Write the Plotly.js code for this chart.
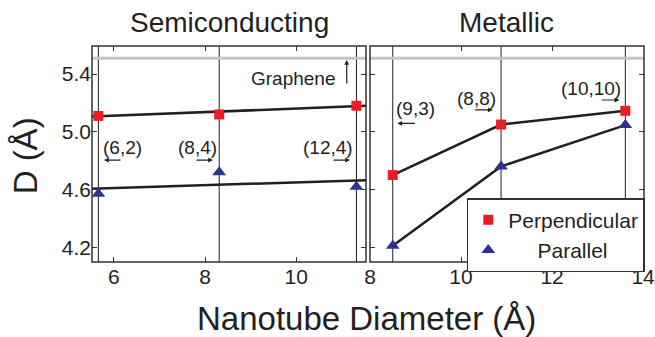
<!DOCTYPE html>
<html>
<head>
<meta charset="utf-8">
<script src="https://cdn.plot.ly/plotly-3.0.1.min.js"></script>
<style>html,body{margin:0;padding:0;background:#fff;overflow:hidden;}#chart{width:655px;height:337px;}</style>
</head>
<body>
<div id="chart"></div>
<script>
// ---- data ----
const semiLabels = ["(6,2)", "(8,4)", "(12,4)"];
const semiX = [5.66, 8.31, 11.32];
const semiPerp = [5.11, 5.12, 5.18];
const semiPar = [4.57, 4.72, 4.62];
const semiFitX = [5.52, 11.53];
const semiFitPerp = [5.105, 5.18];
const semiFitPar = [4.605, 4.665];

const metLabels = ["(9,3)", "(8,8)", "(10,10)"];
const metX = [8.50, 10.88, 13.61];
const metPerp = [4.70, 5.05, 5.145];
const metPar = [4.21, 4.76, 5.046];

const grapheneD = 5.51;
const yTicks = [4.2, 4.6, 5.0, 5.4];
const semiXTicks = [6, 8, 10];
const metXTicks = [8, 10, 12, 14];

// ---- styles ----
const RED = '#ec1c24', BLUE = '#2e3192', INK = '#231f20';
const FONT = 'Liberation Sans, Arial, Helvetica, sans-serif';

const traces = [
  {x: semiFitX, y: semiFitPerp, xaxis: 'x', yaxis: 'y', mode: 'lines', line: {color: INK, width: 2.5}, showlegend: false, hoverinfo: 'skip'},
  {x: semiFitX, y: semiFitPar, xaxis: 'x', yaxis: 'y', mode: 'lines', line: {color: INK, width: 2.5}, showlegend: false, hoverinfo: 'skip'},
  {x: semiX, y: semiPerp, xaxis: 'x', yaxis: 'y', mode: 'markers', marker: {symbol: 'square', size: 10, color: RED}, showlegend: false},
  {x: semiX, y: semiPar, xaxis: 'x', yaxis: 'y', mode: 'markers', marker: {symbol: 'triangle-up', size: 12, color: BLUE}, showlegend: false},
  {x: metX, y: metPerp, xaxis: 'x2', yaxis: 'y2', mode: 'lines', line: {color: INK, width: 2.5}, showlegend: false, hoverinfo: 'skip'},
  {x: metX, y: metPar, xaxis: 'x2', yaxis: 'y2', mode: 'lines', line: {color: INK, width: 2.5}, showlegend: false, hoverinfo: 'skip'},
  {x: metX, y: metPerp, xaxis: 'x2', yaxis: 'y2', mode: 'markers', name: 'Perpendicular', marker: {symbol: 'square', size: 10, color: RED}},
  {x: metX, y: metPar, xaxis: 'x2', yaxis: 'y2', mode: 'markers', name: '\u00a0\u00a0\u00a0\u00a0\u00a0Parallel', marker: {symbol: 'triangle-up', size: 12, color: BLUE}}
];

const shapes = [];
semiX.forEach(v => shapes.push({type: 'line', xref: 'x', yref: 'y domain', x0: v, x1: v, y0: 0, y1: 1, line: {color: INK, width: 1}, layer: 'below'}));
metX.forEach(v => shapes.push({type: 'line', xref: 'x2', yref: 'y2 domain', x0: v, x1: v, y0: 0, y1: 1, line: {color: INK, width: 1}, layer: 'below'}));
shapes.push({type: 'line', xref: 'x domain', yref: 'y', x0: 0, x1: 1, y0: grapheneD, y1: grapheneD, line: {color: '#c4c4c4', width: 3}, layer: 'below'});
shapes.push({type: 'line', xref: 'x2 domain', yref: 'y2', x0: 0, x1: 1, y0: grapheneD, y1: grapheneD, line: {color: '#c4c4c4', width: 3}, layer: 'below'});
// panel frames
shapes.push({type: 'rect', xref: 'x domain', yref: 'y domain', x0: 0, x1: 1, y0: 0, y1: 1, line: {color: '#333', width: 1.5}, fillcolor: 'rgba(0,0,0,0)', layer: 'above'});
shapes.push({type: 'rect', xref: 'x2 domain', yref: 'y2 domain', x0: 0, x1: 1, y0: 0, y1: 1, line: {color: '#333', width: 1.5}, fillcolor: 'rgba(0,0,0,0)', layer: 'above'});

const af = {family: FONT, size: 19, color: INK};
const arrowBase = {text: '', showarrow: true, arrowhead: 2, arrowsize: 0.8, arrowwidth: 1.2, arrowcolor: INK, axref: 'pixel', ayref: 'pixel'};
const annotations = [
  {text: 'Semiconducting', xref: 'x domain', yref: 'paper', x: 0.5, y: 1.11, yanchor: 'middle', showarrow: false, font: {family: FONT, size: 28, color: INK}},
  {text: 'Metallic', xref: 'x2 domain', yref: 'paper', x: 0.5, y: 1.11, yanchor: 'middle', showarrow: false, font: {family: FONT, size: 28, color: INK}},
  {text: 'Nanotube Diameter (\u00c5)', xref: 'paper', yref: 'paper', x: 0.498, y: -0.26, yanchor: 'middle', showarrow: false, font: {family: FONT, size: 33, color: INK}},
  {text: 'D (\u00c5)', xref: 'paper', yref: 'paper', x: -0.121, y: 0.49, xanchor: 'center', yanchor: 'middle', textangle: -90, showarrow: false, font: {family: FONT, size: 33, color: INK}},
  {text: 'Graphene', xref: 'x', yref: 'y', x: 9.94, y: 5.372, showarrow: false, font: af},
  Object.assign({}, arrowBase, {xref: 'x', yref: 'y', x: 11.107, y: 5.497, ax: 0, ay: 25}),
  {text: semiLabels[0], xref: 'x', yref: 'y', x: 6.18, y: 4.894, showarrow: false, font: af},
  Object.assign({}, arrowBase, {xref: 'x', yref: 'y', x: 5.783, y: 4.804, ax: 18, ay: 0}),
  {text: semiLabels[1], xref: 'x', yref: 'y', x: 7.834, y: 4.894, showarrow: false, font: af},
  Object.assign({}, arrowBase, {xref: 'x', yref: 'y', x: 8.174, y: 4.804, ax: -18, ay: 0}),
  {text: semiLabels[2], xref: 'x', yref: 'y', x: 10.686, y: 4.894, showarrow: false, font: af},
  Object.assign({}, arrowBase, {xref: 'x', yref: 'y', x: 11.179, y: 4.804, ax: -18, ay: 0}),
  {text: metLabels[0], xref: 'x2', yref: 'y2', x: 9.0, y: 5.158, showarrow: false, font: af},
  Object.assign({}, arrowBase, {xref: 'x2', yref: 'y2', x: 8.60, y: 5.058, ax: 19, ay: 0}),
  {text: metLabels[1], xref: 'x2', yref: 'y2', x: 10.336, y: 5.230, showarrow: false, font: af},
  Object.assign({}, arrowBase, {xref: 'x2', yref: 'y2', x: 10.696, y: 5.151, ax: -19, ay: 0}),
  {text: metLabels[2], xref: 'x2', yref: 'y2', x: 12.845, y: 5.303, showarrow: false, font: af},
  Object.assign({}, arrowBase, {xref: 'x2', yref: 'y2', x: 13.478, y: 5.22, ax: -19, ay: 0})
];

const axisCommon = {
  showline: false, mirror: 'ticks',
  ticks: 'inside', ticklen: 5, tickwidth: 1, tickcolor: '#333',
  showgrid: false, zeroline: false, automargin: false,
  ticklabeloverflow: 'allow',
  tickfont: {family: FONT, size: 21, color: INK}
};

const layout = {
  width: 655, height: 337,
  margin: {l: 92, r: 11, t: 46, b: 75, pad: 0, autoexpand: false},
  paper_bgcolor: '#fff', plot_bgcolor: '#fff',
  showlegend: true,
  legend: {x: 0.679, y: 0.296, xanchor: 'left', yanchor: 'top', bgcolor: '#fff', bordercolor: '#333', borderwidth: 1.5,
           font: {family: FONT, size: 21, color: INK}, tracegroupgap: 0},
  xaxis: Object.assign({}, axisCommon, {domain: [0, 0.4964], range: [5.52, 11.53], tickvals: semiXTicks, anchor: 'y'}),
  xaxis2: Object.assign({}, axisCommon, {domain: [0.5036, 1], range: [8, 14.02], tickvals: metXTicks, anchor: 'y2'}),
  yaxis: Object.assign({}, axisCommon, {range: [4.098, 5.594], tickvals: yTicks, tickformat: '.1f', anchor: 'x'}),
  yaxis2: Object.assign({}, axisCommon, {range: [4.098, 5.594], tickvals: yTicks, showticklabels: false, anchor: 'x2'}),
  shapes: shapes,
  annotations: annotations,
  font: {family: FONT, color: INK}
};

Plotly.newPlot('chart', traces, layout, {displayModeBar: false, staticPlot: true});
</script>
</body>
</html>
